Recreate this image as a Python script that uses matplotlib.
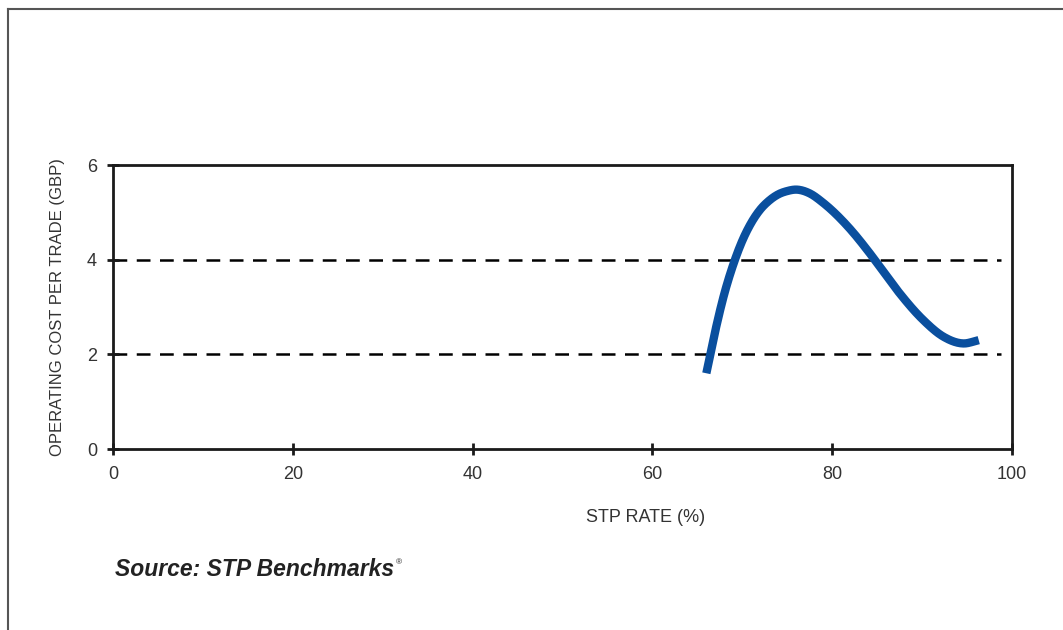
import matplotlib
matplotlib.use("Agg")
import matplotlib.pyplot as plt
from matplotlib.lines import Line2D
import numpy as np

# Data
stp_rate = [66.0, 67.0, 68.0, 69.0, 70.0, 71.0, 72.0, 73.0, 74.0, 75.0, 76.0, 77.5,
            79.0, 81.6, 84.2, 85.3, 87.5, 90.1, 92.4, 94.6, 96.3]
cost_gbp = [1.60, 2.50, 3.28, 3.90, 4.40, 4.78, 5.06, 5.25, 5.38, 5.45, 5.48, 5.40,
            5.20, 4.73, 4.13, 3.85, 3.29, 2.73, 2.37, 2.23, 2.30]
x_ticks = [0, 20, 40, 60, 80, 100]
y_ticks = [0, 2, 4, 6]
ref_levels = [2, 4]


def hermite_smooth(xs, ys, n=20):
    """Cubic Hermite curve through the read points (tangents from neighbours)."""
    xs = np.asarray(xs, float)
    ys = np.asarray(ys, float)
    h = np.diff(xs)
    d = np.diff(ys) / h
    m = np.empty_like(xs)
    m[0], m[-1] = d[0], d[-1]
    for i in range(1, len(xs) - 1):
        m[i] = (h[i] * d[i - 1] + h[i - 1] * d[i]) / (h[i - 1] + h[i])
    px, py = [], []
    for i in range(len(xs) - 1):
        t = np.linspace(0, 1, n, endpoint=False)
        h00 = 2 * t**3 - 3 * t**2 + 1
        h10 = t**3 - 2 * t**2 + t
        h01 = -2 * t**3 + 3 * t**2
        h11 = t**3 - t**2
        px.extend(xs[i] + t * h[i])
        py.extend(h00 * ys[i] + h10 * h[i] * m[i] + h01 * ys[i + 1] + h11 * h[i] * m[i + 1])
    px.append(xs[-1])
    py.append(ys[-1])
    return px, py


sx, sy = hermite_smooth(stp_rate, cost_gbp)

FONT = ["Liberation Sans", "DejaVu Sans"]

fig = plt.figure(figsize=(10.63, 6.30), dpi=100)
ax = fig.add_axes([113 / 1063, 1 - 449 / 630, (1012 - 113) / 1063, (449 - 165) / 630])

for lvl in ref_levels:
    ax.plot([0, 98.8], [lvl, lvl], color="black", lw=1.8, ls=(0, (5.5, 3.8)), zorder=1)

ax.plot(sx, sy, color="#0a4f9e", lw=6.0, solid_capstyle="butt", zorder=3)

ax.set_xlim(0, 100)
ax.set_ylim(0, 6)
ax.set_xticks(x_ticks)
ax.set_yticks(y_ticks)
for s in ax.spines.values():
    s.set_linewidth(2.0)
    s.set_color("#1a1a1a")
ax.tick_params(axis="both", direction="inout", length=9, width=2.0, color="#1a1a1a",
               labelsize=13, labelcolor="#333333")
ax.tick_params(axis="x", pad=8)
ax.tick_params(axis="y", pad=7)
for lab in ax.get_xticklabels() + ax.get_yticklabels():
    lab.set_family(FONT)

ax.set_ylabel("OPERATING COST PER TRADE (GBP)", fontsize=12, color="#333333",
              family=FONT, labelpad=16)
fig.text(646 / 1063, 1 - 517 / 630, "STP RATE (%)", ha="center", va="center",
         fontsize=13, color="#333333", family=FONT)

src = fig.text(115 / 1063, 1 - 569 / 630, "Source: STP Benchmarks", ha="left",
               va="center", fontsize=16.5, fontweight="bold", fontstyle="italic",
               color="#222222", family=FONT)
ax.annotate("\u00ae", xy=(1.0, 0.92), xycoords=src, xytext=(1, 0),
            textcoords="offset points", fontsize=6, color="#222222",
            family=FONT, ha="left", va="top", annotation_clip=False)

# frame around the figure (left and top edges visible)
fig.add_artist(Line2D([8 / 1063, 8 / 1063], [0, 1 - 9 / 630], transform=fig.transFigure,
                      color="#555555", lw=1.5))
fig.add_artist(Line2D([8 / 1063, 1], [1 - 9 / 630, 1 - 9 / 630], transform=fig.transFigure,
                      color="#555555", lw=1.5))

fig.savefig("out.png", dpi=100)
